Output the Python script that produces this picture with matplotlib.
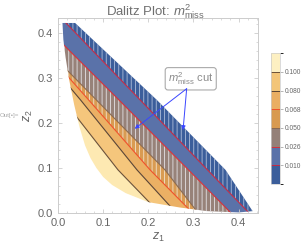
import numpy as np
import matplotlib as mpl
mpl.use('Agg')
import matplotlib.pyplot as plt
from matplotlib.patches import Polygon
from matplotlib.colors import ListedColormap, BoundaryNorm
from matplotlib.cm import ScalarMappable
from matplotlib.ticker import MultipleLocator

plt.rcParams['font.family'] = ['Liberation Sans', 'DejaVu Sans']
plt.rcParams['mathtext.fontset'] = 'custom'
plt.rcParams['mathtext.rm'] = 'Liberation Sans'
plt.rcParams['mathtext.it'] = 'Liberation Sans:italic'
plt.rcParams['hatch.linewidth'] = 0.6

# Dalitz region boundary
edge_z1 = [0.010, 0.038, 0.219, 0.371, 0.431]
edge_z2 = [0.422, 0.422, 0.251, 0.0956, 0.004]
low_z1 = [0.400, 0.330, 0.270, 0.200, 0.150, 0.120, 0.100, 0.085, 0.072, 0.060, 0.048, 0.036, 0.025, 0.017, 0.012]
low_z2 = [0.001, 0.004, 0.012, 0.024, 0.044, 0.062, 0.080, 0.100, 0.122, 0.150, 0.190, 0.240, 0.295, 0.345, 0.385]

# m^2_miss contour levels; each contour given by z1 at a few z2 heights
levels = [0.010, 0.026, 0.050, 0.068, 0.080, 0.100]
level_labels = ['0.010', '0.026', '0.050', '0.068', '0.080', '0.100']
z2_ref = [0.0, 0.0956, 0.251, 0.43]
contour_z1 = [
  [0.423, 0.331, 0.182, 0.010],    # 0.010
  [0.383, 0.289, 0.135, -0.044],   # 0.026
  [0.310, 0.237, 0.085, -0.090],   # 0.050
  [0.298, 0.204, 0.068, -0.090],   # 0.068
  [0.262, 0.175, 0.050, -0.100],   # 0.080
  [0.225, 0.133, 0.012, -0.130],   # 0.100
]

band_colors = ['#3b5e9b', '#5a72a9', '#978279', '#d99b52', '#ebb064', '#f5c67c', '#fde9b2']
bar_colors = ['#3b5e9b', '#5a72a9', '#948078', '#d89a50', '#eaae62', '#f3c578', '#fdf0c2']
line_colors = ['#c42a44', '#d8303a', '#8a6a50', '#f0502a', '#5a4434', '#6a5038']
hatched = [True, False, True, True, False, False, False]
hatch_colors = ['#aebdda', 'none', '#e4e2e6', '#f4e2cc', 'none', 'none', 'none']


def main():
  fig = plt.figure(figsize=(3.05, 2.47), dpi=100)
  ax = fig.add_axes([0.19, 0.138, 0.656, 0.789])

  pts = list(zip(edge_z1, edge_z2)) + list(zip(low_z1, low_z2))
  region = Polygon(pts, closed=True, facecolor='none', edgecolor='none')
  ax.add_patch(region)

  n = len(levels)
  lines = [np.array(c) for c in contour_z1]
  zz = np.array(z2_ref)
  for k in range(n + 1):
    right = zz * 0 + 1.0 if k == 0 else lines[k - 1]
    left = zz * 0 - 1.0 if k == n else lines[k]
    coll = ax.fill_betweenx(zz, left, right, facecolor=band_colors[k],
                            edgecolor=hatch_colors[k], linewidth=0,
                            hatch='||||' if hatched[k] else None)
    coll.set_clip_path(region)

  for i in range(n):
    ln, = ax.plot(lines[i], zz, color=line_colors[i], lw=0.8)
    ln.set_clip_path(region)

  # annotation
  ax.text(0.294, 0.298, r'$m^2_{\mathrm{miss}}$ cut', ha='center', va='center',
          fontsize=8, color='#8a8a8a',
          bbox=dict(boxstyle='round,pad=0.25', fc='white', ec='#aaaaaa', lw=0.8))
  for tip in [(0.170, 0.187), (0.277, 0.184)]:
    ax.annotate('', xy=tip, xytext=(0.285, 0.276),
                arrowprops=dict(arrowstyle='-|>', color='#3a46ff', lw=0.7,
                                mutation_scale=6, shrinkA=0, shrinkB=0))

  ax.set_xlim(0, 0.443)
  ax.set_ylim(0, 0.433)
  ax.xaxis.set_major_locator(MultipleLocator(0.1))
  ax.yaxis.set_major_locator(MultipleLocator(0.1))
  ax.xaxis.set_minor_locator(MultipleLocator(0.02))
  ax.yaxis.set_minor_locator(MultipleLocator(0.02))
  ax.tick_params(which='both', direction='in', colors='#cccccc', labelcolor='#666666',
                 labelsize=8, top=True, right=True)
  ax.tick_params(which='major', length=3, width=0.6)
  ax.tick_params(which='minor', length=1.5, width=0.5)
  for s in ax.spines.values():
    s.set_color('#cccccc')
    s.set_linewidth(0.7)
  ax.set_xlabel('$z_1$', fontsize=9, color='#666666', labelpad=2)
  ax.set_ylabel('$z_2$', fontsize=9, color='#666666', labelpad=2)
  fig.text(0.51, 0.992, r'Dalitz Plot: $m^2_{\mathrm{miss}}$', ha='center', va='top',
           fontsize=9.5, color='#707070')

  fig.text(0.0, 0.525, 'Out[\u2022]=', fontsize=4.5, color='#aaaaaa')

  # legend bar
  cax = fig.add_axes([0.888, 0.255, 0.031, 0.53])
  bounds = [0.0] + levels + [0.12]
  cmap = ListedColormap(bar_colors)
  norm = BoundaryNorm(bounds, cmap.N)
  sm = ScalarMappable(norm=norm, cmap=cmap)
  cb = fig.colorbar(sm, cax=cax, boundaries=bounds, ticks=levels, spacing='uniform')
  cb.set_ticklabels(level_labels)
  cb.outline.set_edgecolor('#cccccc')
  cb.outline.set_linewidth(0.5)
  cax.tick_params(labelsize=4.8, colors='#999999', labelcolor='#666666',
                  length=2.5, width=0.5, pad=1)
  for lev, c in zip(levels, line_colors):
    cax.axhline(lev, color=c, lw=0.7)

  fig.savefig('out.png', dpi=100)


if __name__ == '__main__':
  main()
